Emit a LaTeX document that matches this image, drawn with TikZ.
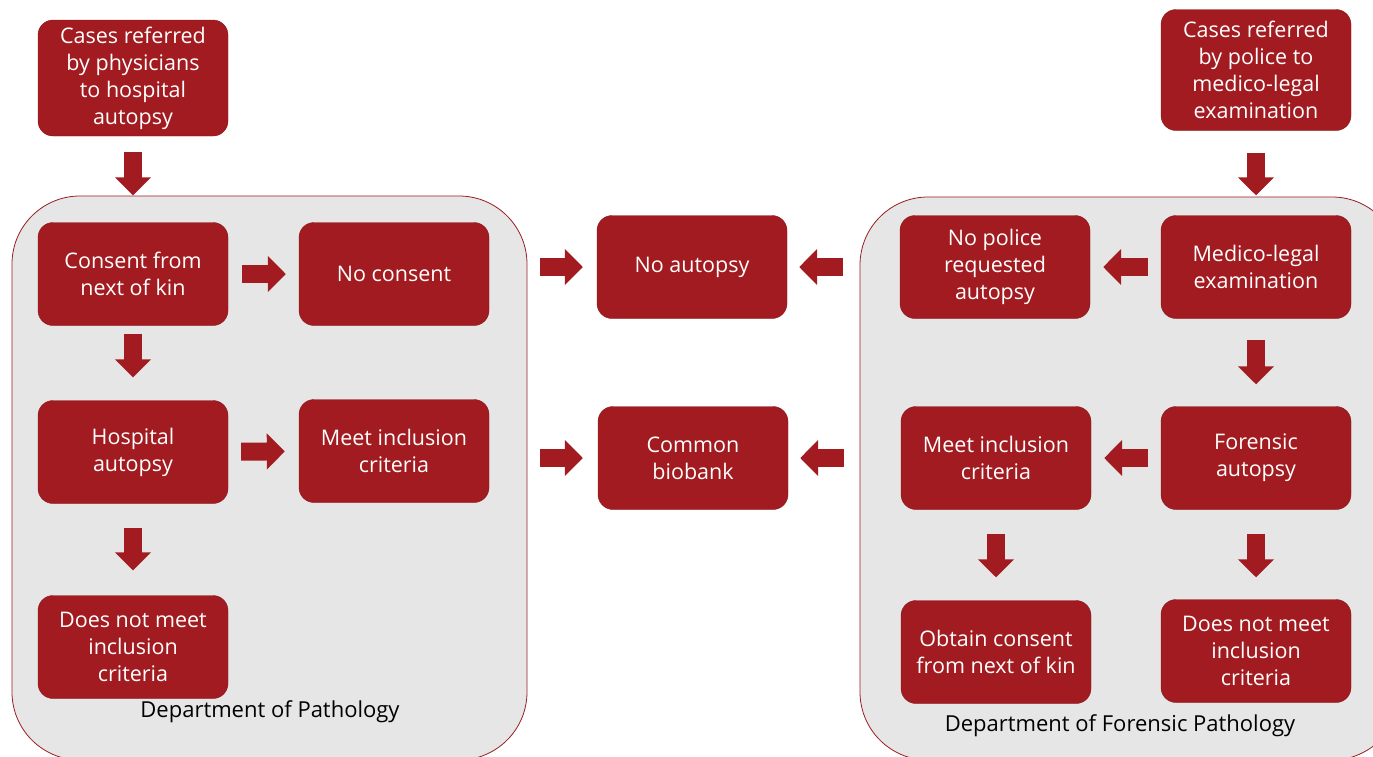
\documentclass[tikz,border=0pt]{standalone}
\usepackage{fontspec}
\setmainfont{Open Sans}
\usetikzlibrary{arrows.meta}
\definecolor{boxred}{RGB}{161,27,32}
\definecolor{boxline}{RGB}{135,22,27}
\definecolor{panelgray}{RGB}{230,230,230}
\definecolor{panelline}{RGB}{150,30,35}
\begin{document}
\begin{tikzpicture}[
      x=1pt,y=-1pt,
      every node/.style={font=\fontsize{21.5}{27}\selectfont},
      box/.style={draw=boxline,fill=boxred,text=white,rounded corners=15pt,
        minimum width=190pt,minimum height=103pt,align=center,inner sep=2pt},
      panel/.style={draw=panelline,fill=panelgray,rounded corners=68pt,line width=0.8pt},
      dept/.style={font=\fontsize{22}{27}\selectfont},
      arr/.style={draw=boxred,line width=18pt,-{Triangle[width=35pt,length=18pt]}}
    ]
      \useasboundingbox (0,0) rectangle (1373,756);
      \clip (0,0) rectangle (1373,756);
      % the two departments
      \node[panel,minimum width=515pt,minimum height=564pt] (lpanel) at (269.5,478) {};
      \node[panel,minimum width=540pt,minimum height=563pt] (rpanel) at (1130,478.5) {};
      \node[dept] (deptL) at (270,712) {Department of Pathology};
      \node[dept] (deptR) at (1120,726) {Department of Forensic Pathology};
      % hospital side
      \node[box,minimum height=116pt] (topL) at (133,78) {Cases referred\\by physicians\\to hospital\\autopsy};
      \node[box] (consent) at (133,274) {Consent from\\next of kin};
      \node[box] (nocons) at (394,274) {No consent};
      \node[box] (hosp) at (133,452) {Hospital\\autopsy};
      \node[box] (meetL) at (394,451) {Meet inclusion\\criteria};
      \node[box] (notmeetL) at (133,647) {Does not meet\\inclusion\\criteria};
      % middle
      \node[box] (noaut) at (692,267) {No autopsy};
      \node[box] (bio) at (693,458) {Common\\biobank};
      % forensic side
      \node[box,minimum height=121pt] (topR) at (1256,70) {Cases referred\\by police to\\medico-legal\\examination};
      \node[box] (nopol) at (995,267) {No police\\requested\\autopsy};
      \node[box] (medleg) at (1256,267) {Medico-legal\\examination};
      \node[box] (meetR) at (996,458) {Meet inclusion\\criteria};
      \node[box] (foren) at (1256,458) {Forensic\\autopsy};
      \node[box] (obtain) at (996,652) {Obtain consent\\from next of kin};
      \node[box] (notmeetR) at (1256,651) {Does not meet\\inclusion\\criteria};
      % arrows
      \draw[arr,shorten <=16pt,shorten >=27pt] (topL) -- (consent);
      \draw[arr,shorten <=14pt,shorten >=13pt] (consent) -- (nocons);
      \draw[arr,shorten <=8pt,shorten >=23pt] (consent) -- (hosp);
      \draw[arr,shorten <=13pt,shorten >=14pt] (hosp) -- (meetL);
      \draw[arr,shorten <=24pt,shorten >=25pt] (hosp) -- (notmeetL);
      \draw[arr,shorten <=13pt,shorten >=14pt] (lpanel.east |- noaut) -- (noaut);
      \draw[arr,shorten <=13pt,shorten >=15pt] (lpanel.east |- bio) -- (bio);
      \draw[arr,shorten <=17pt,shorten >=12pt] (rpanel.west |- noaut) -- (noaut);
      \draw[arr,shorten <=16pt,shorten >=12pt] (rpanel.west |- bio) -- (bio);
      \draw[arr,shorten <=22pt,shorten >=20pt] (topR) -- (medleg);
      \draw[arr,shorten <=13pt,shorten >=13pt] (medleg) -- (nopol);
      \draw[arr,shorten <=21pt,shorten >=22pt] (medleg) -- (foren);
      \draw[arr,shorten <=13pt,shorten >=13pt] (foren) -- (meetR);
      \draw[arr,shorten <=24pt,shorten >=23pt] (meetR) -- (obtain);
      \draw[arr,shorten <=24pt,shorten >=22pt] (foren) -- (notmeetR);
    \end{tikzpicture}
\end{document}
